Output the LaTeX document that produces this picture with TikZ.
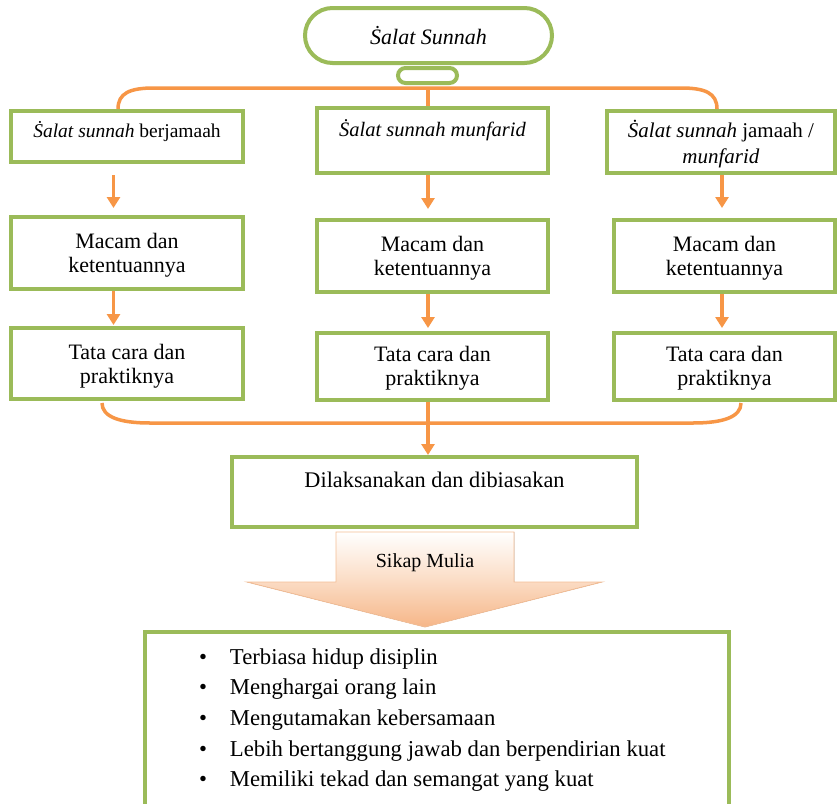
\documentclass[tikz,border=0pt]{standalone}
\usepackage{fontspec}
\setmainfont{Liberation Serif}
\usetikzlibrary{arrows.meta,backgrounds}
\definecolor{gr}{RGB}{155,187,89}
\definecolor{orn}{RGB}{247,150,70}
\definecolor{peach}{RGB}{246,182,136}
\definecolor{peachmid}{RGB}{251,221,198}
\definecolor{peachedge}{RGB}{244,190,150}
\newcommand\fsz[2]{\fontsize{#1}{#2}\selectfont}
\newcommand\tbox[4]{\parbox[c][#2][t]{#1}{\centering\rule{0pt}{#3}#4}}
\newcommand\itm[1]{\hspace*{54pt}\makebox[31pt][l]{•}#1}
\tikzset{
  gbox/.style={draw=gr, line width=4pt, fill=white, inner sep=0pt, rectangle},
  oline/.style={draw=orn, line width=3.5pt},
  oarrow/.style={oline, -{Triangle[width=13pt,length=11pt]}},
}
\begin{document}
\begin{tikzpicture}[x=1pt,y=-1pt]
\useasboundingbox (0,0) rectangle (840,803);
% top pill
\node[draw=gr, line width=4pt, fill=white, rounded corners=27.5pt, minimum width=247pt, minimum height=55pt, inner sep=0pt, font=\fsz{22}{24}] (P) at (428.5,35.5) {\textit{Ṡalat Sunnah}};
\node[draw=gr, line width=4pt, fill=white, rounded corners=7.5pt, minimum width=59pt, minimum height=15pt, inner sep=0pt] (SP) at (427.5,75.5) {};
% top row
\node[gbox, font=\fsz{19.5}{26}] (B1) at (127,136.5) {\tbox{232pt}{51pt}{26pt}{\textit{Ṡalat sunnah} berjamaah}};
\node[gbox, font=\fsz{20.5}{26}] (B2) at (432.5,140.5) {\tbox{231pt}{65pt}{28pt}{\textit{Ṡalat sunnah munfarid}}};
\node[gbox, font=\fsz{21}{26}] (B3) at (721,142) {\tbox{228pt}{62pt}{26pt}{\textit{Ṡalat sunnah} jamaah /\\\textit{munfarid}}};
% middle row
\node[gbox, font=\fsz{22}{24}] (M1) at (127,253) {\tbox{232pt}{72pt}{31pt}{Macam dan\\ketentuannya}};
\node[gbox, font=\fsz{22}{24}] (M2) at (432.5,256) {\tbox{231pt}{72pt}{31pt}{Macam dan\\ketentuannya}};
\node[gbox, font=\fsz{22}{24}] (M3) at (724.5,256) {\tbox{221pt}{72pt}{31pt}{Macam dan\\ketentuannya}};
% bottom row
\node[gbox, font=\fsz{22}{24}] (T1) at (127,363.5) {\tbox{232pt}{71pt}{31pt}{Tata cara dan\\praktiknya}};
\node[gbox, font=\fsz{22}{24}] (T2) at (432.5,366.5) {\tbox{231pt}{67pt}{28pt}{Tata cara dan\\praktiknya}};
\node[gbox, font=\fsz{22}{24}] (T3) at (724.5,366.5) {\tbox{221pt}{67pt}{28pt}{Tata cara dan\\praktiknya}};
% result box
\node[gbox, font=\fsz{22.3}{24}] (D) at (434.5,492) {\tbox{405pt}{70pt}{30pt}{Dilaksanakan dan dibiasakan}};
% big arrow
\filldraw[draw=peachedge, line width=0.8pt, top color=white, bottom color=peach, middle color=peachmid]
  (336,532) -- (514,532) -- (514,582) -- (602,582) -- (425,627) -- (247,582) -- (336,582) -- cycle;
\node[font=\fsz{20}{22}] (SM) at (425,563) {Sikap Mulia};
% list box
\node[gbox, font=\fsz{22.7}{30.7}] (L) at (437,736) {\parbox[c][208pt][t]{584pt}{\raggedright\rule{0pt}{32pt}\itm{Terbiasa hidup disiplin}\\
\itm{Menghargai orang lain}\\
\itm{Mengutamakan kebersamaan}\\
\itm{Lebih bertanggung jawab dan berpendirian kuat}\\
\itm{Memiliki tekad dan semangat yang kuat}}};
% connectors
\coordinate (tj) at (428,88);
\coordinate (c1) at (113.5,0);
\coordinate (c2) at (428,0);
\coordinate (c3) at (722,0);
\coordinate (bl) at (102,403);
\coordinate (br) at (741,403);
\begin{scope}[on background layer]
\fill[white] (0,0) rectangle (840,803);
\draw[oline] ([xshift=-9pt]B1.north) .. controls +(0,-16) and +(-24,0) .. (154,88) -- (tj) -- (681,88) .. controls +(24,0) and +(0,-16) .. ([xshift=-4pt]B3.north);
\draw[oline] (tj) -- (tj |- B2.north);
\draw[oline] (bl) .. controls +(0,14) and +(-30,0) .. (150,423) -- (693,423) .. controls +(30,0) and +(0,14) .. (br);
\end{scope}
\draw[oarrow, shorten <=11pt, shorten >=7pt] (c1 |- B1.south) -- (c1 |- M1.north);
\draw[oarrow, shorten >=9pt] (c2 |- B2.south) -- (c2 |- M2.north);
\draw[oarrow, shorten >=10pt] (c3 |- B3.south) -- (c3 |- M3.north);
\draw[oarrow, shorten >=1pt] (c1 |- M1.south) -- (c1 |- T1.north);
\draw[oarrow, shorten >=3pt] (c2 |- M2.south) -- (c2 |- T2.north);
\draw[oarrow, shorten >=3pt] (c3 |- M3.south) -- (c3 |- T3.north);
\draw[oarrow] (c2 |- T2.south) -- (c2 |- D.north);
\end{tikzpicture}
\end{document}
